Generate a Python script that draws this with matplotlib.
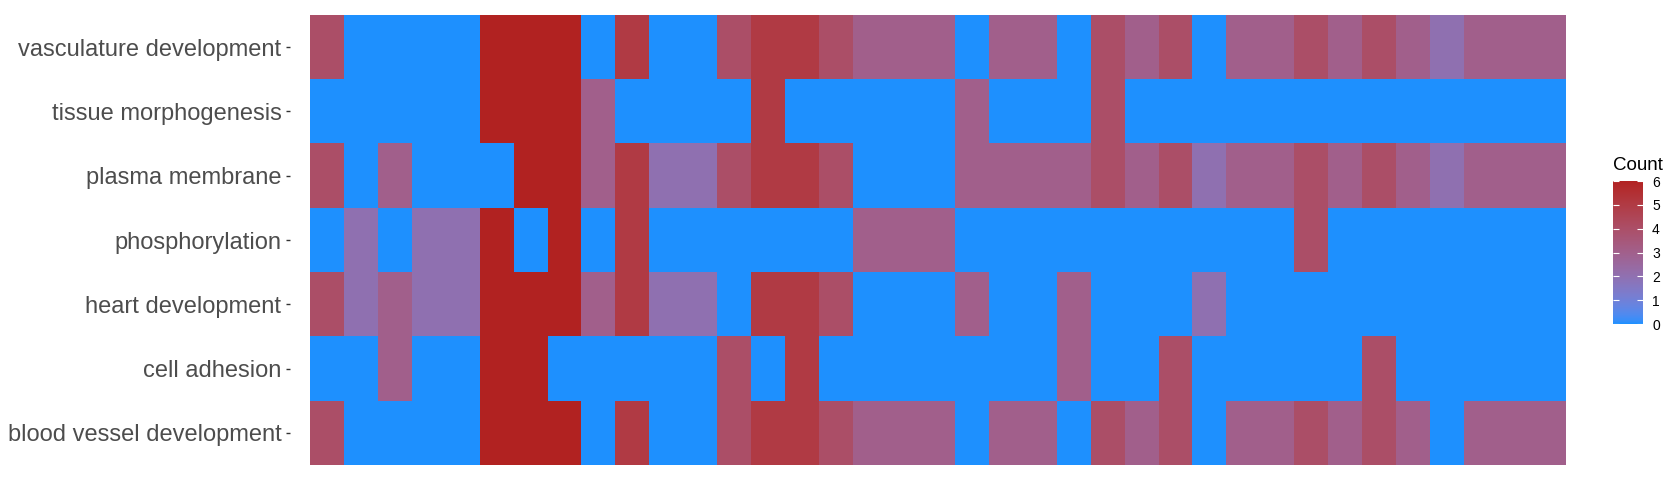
import numpy as np
import matplotlib
matplotlib.use("Agg")
import matplotlib.pyplot as plt
from matplotlib.colors import ListedColormap

plt.rcParams['font.family'] = ['Liberation Sans', 'DejaVu Sans']

terms = ["vasculature development", "tissue morphogenesis", "plasma membrane",
         "phosphorylation", "heart development", "cell adhesion",
         "blood vessel development"]

vasculature_development = [4, 0, 0, 0, 0, 6, 6, 6, 0, 5, 0, 0, 4, 5, 5, 4, 3, 3, 3, 0, 3, 3, 0, 4, 3, 4, 0, 3, 3, 4, 3, 4, 3, 2, 3, 3, 3]
tissue_morphogenesis    = [0, 0, 0, 0, 0, 6, 6, 6, 3, 0, 0, 0, 0, 5, 0, 0, 0, 0, 0, 3, 0, 0, 0, 4, 0, 0, 0, 0, 0, 0, 0, 0, 0, 0, 0, 0, 0]
plasma_membrane         = [4, 0, 3, 0, 0, 0, 6, 6, 3, 5, 2, 2, 4, 5, 5, 4, 0, 0, 0, 3, 3, 3, 3, 4, 3, 4, 2, 3, 3, 4, 3, 4, 3, 2, 3, 3, 3]
phosphorylation         = [0, 2, 0, 2, 2, 6, 0, 6, 0, 5, 0, 0, 0, 0, 0, 0, 3, 3, 3, 0, 0, 0, 0, 0, 0, 0, 0, 0, 0, 4, 0, 0, 0, 0, 0, 0, 0]
heart_development       = [4, 2, 3, 2, 2, 6, 6, 6, 3, 5, 2, 2, 0, 5, 5, 4, 0, 0, 0, 3, 0, 0, 3, 0, 0, 0, 2, 0, 0, 0, 0, 0, 0, 0, 0, 0, 0]
cell_adhesion           = [0, 0, 3, 0, 0, 6, 6, 0, 0, 0, 0, 0, 4, 0, 5, 0, 0, 0, 0, 0, 0, 0, 3, 0, 0, 4, 0, 0, 0, 0, 0, 4, 0, 0, 0, 0, 0]
blood_vessel_development = [4, 0, 0, 0, 0, 6, 6, 6, 0, 5, 0, 0, 4, 5, 5, 4, 3, 3, 3, 0, 3, 3, 0, 4, 3, 4, 0, 3, 3, 4, 3, 4, 3, 0, 3, 3, 3]

counts = np.array([vasculature_development, tissue_morphogenesis, plasma_membrane,
                   phosphorylation, heart_development, cell_adhesion,
                   blood_vessel_development], dtype=float)

cbar_ticks = [0, 1, 2, 3, 4, 5, 6]

# --- Lab-interpolated gradient (like ggplot2 scale_fill_gradient) ---
M = np.array([[0.4124564, 0.3575761, 0.1804375],
              [0.2126729, 0.7151522, 0.0721750],
              [0.0193339, 0.1191920, 0.9503041]])
WHITE = np.array([0.95047, 1.0, 1.08883])
D = 6 / 29


def to_lab(rgb):
    c = np.asarray(rgb, float)
    lin = np.where(c <= 0.04045, c / 12.92, ((c + 0.055) / 1.055) ** 2.4)
    xyz = M @ lin / WHITE
    f = np.where(xyz > D ** 3, np.cbrt(xyz), xyz / (3 * D * D) + 4 / 29)
    return np.array([116 * f[1] - 16, 500 * (f[0] - f[1]), 200 * (f[1] - f[2])])


def from_lab(lab):
    L, a, b = lab
    fy = (L + 16) / 116
    fx = fy + a / 500
    fz = fy - b / 200
    f = np.array([fx, fy, fz])
    xyz = np.where(f > D, f ** 3, 3 * D * D * (f - 4 / 29)) * WHITE
    lin = np.linalg.solve(M, xyz)
    lin = np.clip(lin, 0, 1)
    c = np.where(lin <= 0.0031308, 12.92 * lin, 1.055 * lin ** (1 / 2.4) - 0.055)
    return np.clip(c, 0, 1)


low = np.array([30, 144, 255]) / 255.0    # dodgerblue
high = np.array([178, 34, 34]) / 255.0    # firebrick
lab_lo, lab_hi = to_lab(low), to_lab(high)
cols = [from_lab(lab_lo + (lab_hi - lab_lo) * t) for t in np.linspace(0, 1, 256)]
cmap = ListedColormap(cols)

W, H = 1680, 480
fig = plt.figure(figsize=(W / 100, H / 100), dpi=100)
ax = fig.add_axes([310 / W, 1 - 465 / H, (1566 - 310) / W, (465 - 15) / H])
im = ax.imshow(counts, cmap=cmap, vmin=0, vmax=6, aspect='auto', interpolation='nearest')

for s in ax.spines.values():
    s.set_visible(False)
ax.spines['left'].set_position(('outward', 14.4))
ax.set_yticks(range(len(terms)))
ax.set_yticklabels(terms)
ax.set_xticks([])
ax.tick_params(axis='y', length=3.2, width=1.0, color='#333333', pad=3.0,
               labelsize=17, labelcolor='#4D4D4D')

cax = fig.add_axes([1613 / W, 1 - 324 / H, 30 / W, (324 - 181) / H])
cb = fig.colorbar(im, cax=cax, ticks=cbar_ticks)
cb.outline.set_visible(False)
cax.tick_params(axis='y', direction='in', length=4.5, width=0.8, color='white',
                left=True, right=True, labelleft=False, labelright=True,
                labelsize=10, pad=6.5, labelcolor='black')
fig.text(1613 / W, 1 - 169.5 / H, "Count", fontsize=13.5, color='black', ha='left', va='baseline')

fig.savefig("out.png", dpi=100)
